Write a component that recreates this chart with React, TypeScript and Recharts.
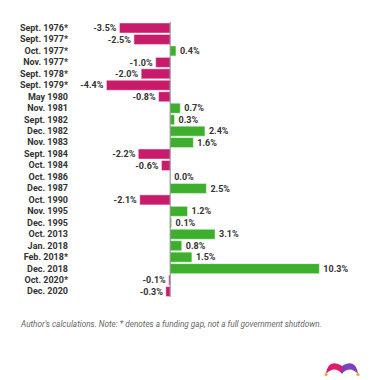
import { Bar, BarChart, Cell, LabelList, ReferenceLine, XAxis, YAxis } from "recharts";

const periods = [
  "Sept. 1976*",
  "Sept. 1977*",
  "Oct. 1977*",
  "Nov. 1977*",
  "Sept. 1978*",
  "Sept. 1979*",
  "May 1980",
  "Nov. 1981",
  "Sept. 1982",
  "Dec. 1982",
  "Nov. 1983",
  "Sept. 1984",
  "Oct. 1984",
  "Oct. 1986",
  "Dec. 1987",
  "Oct. 1990",
  "Nov. 1995",
  "Dec. 1995",
  "Oct. 2013",
  "Jan. 2018",
  "Feb. 2018*",
  "Dec. 2018",
  "Oct. 2020*",
  "Dec. 2020",
];

const changes = [
  -3.5, -2.5, 0.4, -1.0, -2.0, -4.4, -0.8, 0.7, 0.3, 2.4, 1.6, -2.2, -0.6, 0.0, 2.5, -2.1, 1.2, 0.1,
  3.1, 0.8, 1.5, 10.3, -0.1, -0.3,
];

const data = periods.map((name, i) => ({ name, value: changes[i] }));

const POS = "#3daf2c";
const NEG = "#c91b6b";
const FONT = "Roboto, 'Noto Sans', sans-serif";

function ValueLabel(props: any) {
  const { x, y, width, height, value } = props;
  const left = Math.min(x, x + width);
  const right = Math.max(x, x + width);
  const cy = y + height / 2;
  const neg = value < 0;
  return (
    <text
      x={neg ? left - 3 : right + 4}
      y={cy}
      dy="0.35em"
      textAnchor={neg ? "end" : "start"}
      fontSize={9}
      fontWeight="bold"
      fontFamily={FONT}
      fill="#333"
    >
      {Number(value).toFixed(1)}%
    </text>
  );
}

function PeriodTick(props: any) {
  const { x, y, payload } = props;
  return (
    <text
      x={x}
      y={y}
      dy="0.35em"
      textAnchor="end"
      fontSize={9}
      fontWeight="bold"
      fontFamily={FONT}
      fill="#333"
    >
      {payload.value}
    </text>
  );
}

function Logo() {
  return (
    <svg width={40} height={22} viewBox="0 0 40 22" style={{ position: "absolute", left: 322, top: 355 }}>
      <path d="M4 19 C5 9 11 5 20 11 L20 19 C16 13 9 13 4 19 Z" fill="#e0196f" />
      <path d="M20 11 C29 5 35 9 36 19 C31 13 24 13 20 19 Z" fill="#7b3fc4" />
      <circle cx={4} cy={19.5} r={1.6} fill="#f5a623" />
      <circle cx={36} cy={19.5} r={1.6} fill="#f5a623" />
    </svg>
  );
}

export default function App() {
  return (
    <div style={{ position: "absolute", left: 0, top: 0, width: 380, height: 380, background: "#fff" }}>
      <BarChart
        width={380}
        height={300}
        data={data}
        layout="vertical"
        margin={{ top: 22, right: 36, bottom: 3, left: 0 }}
      >
        <XAxis type="number" domain={[-6.5, 12]} hide />
        <YAxis
          type="category"
          dataKey="name"
          width={76}
          axisLine={false}
          tickLine={false}
          interval={0}
          tick={<PeriodTick />}
        />
        <Bar dataKey="value" barSize={10} minPointSize={0.001} isAnimationActive={false}>
          {data.map((d) => (
            <Cell
              key={d.name}
              fill={d.value < 0 ? NEG : POS}
              stroke={d.value === 0 ? "none" : "rgba(255,255,255,0.45)"}
              strokeWidth={1}
            />
          ))}
          <LabelList dataKey="value" content={<ValueLabel />} />
        </Bar>
        <ReferenceLine x={0} stroke="#888" strokeWidth={1} />
      </BarChart>
      <div
        style={{
          position: "absolute",
          left: 21,
          top: 319,
          fontSize: 8.2,
          fontStyle: "italic",
          fontFamily: FONT,
          color: "#666",
          whiteSpace: "nowrap",
        }}
      >
        Author's calculations. Note: * denotes a funding gap, not a full government shutdown.
      </div>
      <Logo />
    </div>
  );
}
